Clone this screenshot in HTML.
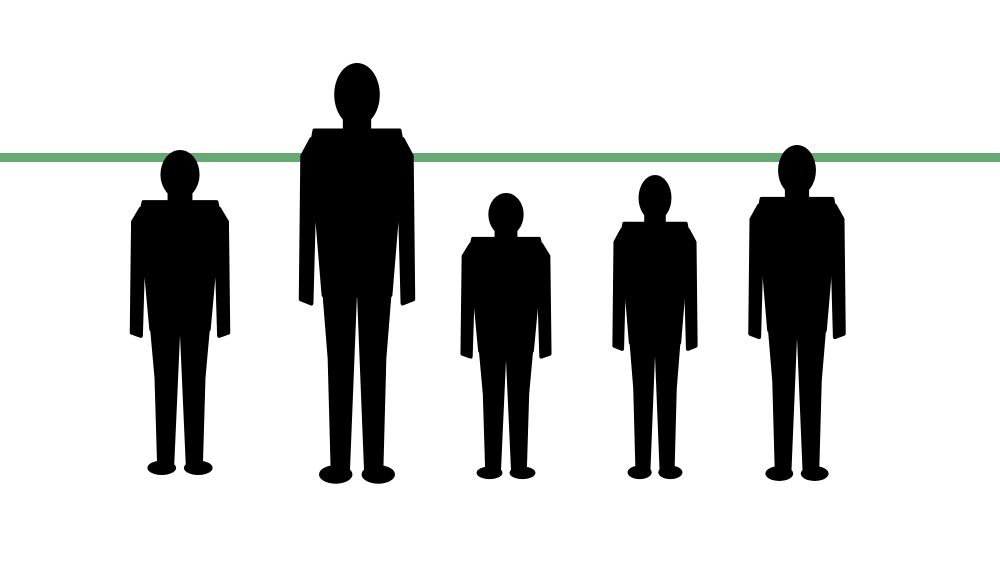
<!DOCTYPE html>
<html><head><meta charset="utf-8"><style>
html,body{margin:0;padding:0;background:#fff;width:1000px;height:563px;overflow:hidden}
</style></head><body>
<svg id="c" width="1000" height="563" viewBox="0 0 1000 563" xmlns="http://www.w3.org/2000/svg">
<rect width="1000" height="563" fill="#fff"/>
<rect x="0" y="153" width="1000" height="9" fill="#68a874"/>
</svg>
<script>
const people = ['person-1','person-2','person-3','person-4','person-5'];
const centers = [180, 357, 506, 655, 797];
const tops = [150, 63, 193, 175, 145];
const feet = [476, 485, 480, 480, 482];
const widthFactor = [0.8, 0.72, 0.82, 0.72, 0.75];
const svg = document.getElementById('c');
const NS = 'http://www.w3.org/2000/svg';
const shapes = [
 [[-0.14,0.16],[0.14,0.16],[0.15,0.2],[0.11,0.55],[-0.11,0.55],[-0.15,0.2]],
 [[-0.15,0.18],[-0.18,0.22],[-0.185,0.56],[-0.15,0.57],[-0.14,0.3]],
 [[0.15,0.18],[0.18,0.22],[0.185,0.56],[0.15,0.57],[0.14,0.3]],
 [[-0.11,0.52],[-0.005,0.52],[-0.03,0.97],[-0.08,0.97],[-0.09,0.7]],
 [[0.11,0.52],[0.005,0.52],[0.03,0.97],[0.08,0.97],[0.09,0.7]],
 [[-0.04,0.11],[0.04,0.11],[0.04,0.18],[-0.04,0.18]]
];
people.forEach((name,i)=>{
  const H = feet[i]-tops[i], cx = centers[i], t = tops[i], w = widthFactor[i];
  const g = document.createElementNS(NS,'g');
  
  
  g.setAttribute('fill','#000');
  const X = u => cx + u*H*w, Y = v => t + v*H;
  const head = document.createElementNS(NS,'ellipse');
  
  
  head.setAttribute('cx', X(0)); head.setAttribute('cy', Y(0.075));
  head.setAttribute('rx', 0.075*H*w); head.setAttribute('ry', 0.075*H);
  g.appendChild(head);
  shapes.forEach(s=>{
    const p = document.createElementNS(NS,'polygon');
    
    
    p.setAttribute('points', s.map(q=>X(q[0])+','+Y(q[1])).join(' '));
    p.setAttribute('stroke','#000'); p.setAttribute('stroke-width','4'); p.setAttribute('stroke-linejoin','round');
    g.appendChild(p);
  });
  [-0.07,0.07].forEach(fx=>{
    const f = document.createElementNS(NS,'ellipse');
    
    
    f.setAttribute('cx', X(fx)); f.setAttribute('cy', Y(0.975));
    f.setAttribute('rx', 0.055*H*w); f.setAttribute('ry', 0.022*H);
    g.appendChild(f);
  });
  svg.appendChild(g);
});
</script>
</body></html>
